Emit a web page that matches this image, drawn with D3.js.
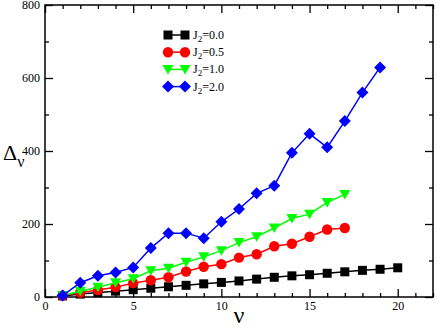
<!DOCTYPE html>
<html><head><meta charset="utf-8">
<script src="https://cdn.jsdelivr.net/npm/d3@7"></script>
<style>body{margin:0;background:#fff}svg, svg text{font-family:"Liberation Serif","Times New Roman",serif !important}</style>
</head><body>
<svg id="c" width="436" height="327"></svg>
<script>
const xTicks = [0, 5, 10, 15, 20];
const yTicks = [0, 200, 400, 600, 800];
const seriesLabels = ["0.0", "0.5", "1.0", "2.0"];
const seriesColors = ["#000000", "#ff0000", "#00ff00", "#0000ff"];
const seriesShapes = ["square", "circle", "triangle", "diamond"];
const j00 = [3, 8, 12, 16, 20, 24, 28, 32, 36, 40, 44, 49, 54, 58, 61, 65, 69, 73, 76, 80];
const j05 = [4, 12, 19, 27, 38, 46, 54, 70, 83, 90, 108, 117, 139, 146, 165, 185, 189];
const j10 = [4, 16, 27, 39, 50, 72, 79, 95, 110, 127, 149, 165, 189, 215, 227, 259, 281];
const j20 = [4, 39, 58, 67, 81, 134, 175, 175, 161, 206, 241, 284, 305, 395, 447, 410, 482, 560, 629];
const allSeries = [j00, j05, j10, j20];

const svg = d3.select("#c");
const L = 45, R = 433, T = 5, B = 297;
const x = d3.scaleLinear().domain([0, 22]).range([L, R]);
const y = d3.scaleLinear().domain([0, 800]).range([B, T]);

const g = svg.append("g");
const minorX = d3.range(0, 23, 1), minorY = d3.range(0, 801, 100);
function tickAxis(axisGen, transform, ticks, size, labels) {
  const a = g.append("g").attr("transform", transform)
    .call(axisGen.tickValues(ticks).tickSize(size).tickSizeOuter(0).tickFormat(labels ? d3.format("d") : ""));
  a.attr("font-family", null);
  a.select(".domain").remove();
  a.selectAll("line").attr("stroke", "#000").attr("stroke-width", 1.3);
  a.selectAll("text").attr("font-size", 12).attr("fill", "#000");
  return a;
}
let a = tickAxis(d3.axisBottom(x), `translate(0,${B})`, xTicks, -8, true);
a.selectAll("text").attr("y", 4).attr("dy", "0.71em");
tickAxis(d3.axisBottom(x), `translate(0,${B})`, minorX.filter(v => v % 5), -4, false);
tickAxis(d3.axisTop(x), `translate(0,${T})`, xTicks, -8, false);
tickAxis(d3.axisTop(x), `translate(0,${T})`, minorX.filter(v => v % 5), -4, false);
a = tickAxis(d3.axisLeft(y), `translate(${L},0)`, yTicks, -8, true);
a.selectAll("text").attr("x", -5);
tickAxis(d3.axisLeft(y), `translate(${L},0)`, minorY.filter(v => v % 200), -4, false);
tickAxis(d3.axisRight(y), `translate(${R},0)`, yTicks, -8, false);
tickAxis(d3.axisRight(y), `translate(${R},0)`, minorY.filter(v => v % 200), -4, false);

g.append("rect").attr("x", L).attr("y", T).attr("width", R - L).attr("height", B - T)
  .attr("fill", "none").attr("stroke", "#000").attr("stroke-width", 1.5);

function marker(sel, shape, color) {
  if (shape === "square") sel.append("rect").attr("x", -4.5).attr("y", -4.5).attr("width", 9).attr("height", 9).attr("fill", color);
  else if (shape === "circle") sel.append("circle").attr("r", 5.2).attr("fill", color);
  else if (shape === "triangle") sel.append("path").attr("d", "M-5.5,-4.5L5.5,-4.5L0,5Z").attr("fill", color);
  else sel.append("path").attr("d", "M0,-6L6,0L0,6L-6,0Z").attr("fill", color);
}

const line = d3.line().x((d, i) => x(i + 1)).y(d => y(d));
allSeries.forEach((s, k) => {
  const sg = g.append("g");
  sg.append("path").datum(s).attr("d", line).attr("fill", "none").attr("stroke", seriesColors[k]).attr("stroke-width", 1.5);
  sg.selectAll("g.m").data(s).join("g").attr("class", "m")
    .attr("transform", (d, i) => `translate(${x(i + 1)},${y(d)})`)
    .each(function () { marker(d3.select(this), seriesShapes[k], seriesColors[k]); });
});

seriesLabels.forEach((lab, k) => {
  const ly = 35 + k * 17.2;
  const lg = g.append("g");
  lg.append("line").attr("x1", 168).attr("x2", 185).attr("y1", ly).attr("y2", ly).attr("stroke", seriesColors[k]).attr("stroke-width", 1.5);
  [168, 185].forEach(px => marker(lg.append("g").attr("transform", `translate(${px},${ly})`), seriesShapes[k], seriesColors[k]));
  const t = lg.append("text").attr("x", 193).attr("y", ly + 4).attr("font-size", 12).attr("fill", "#000");
  t.append("tspan").text("J");
  t.append("tspan").attr("font-size", 9).attr("dy", 3).text("2");
  t.append("tspan").attr("dy", -3).text("=" + lab);
});

const yt = svg.append("text").attr("x", 3).attr("y", 160).attr("font-size", 22).attr("fill", "#000");
yt.append("tspan").text("Δ");
yt.append("tspan").attr("font-size", 16).attr("dy", 7).text("ν");
svg.append("text").attr("x", x(11)).attr("y", 323).attr("text-anchor", "middle").attr("font-size", 24).attr("fill", "#000").text("ν");
</script>
</body></html>
